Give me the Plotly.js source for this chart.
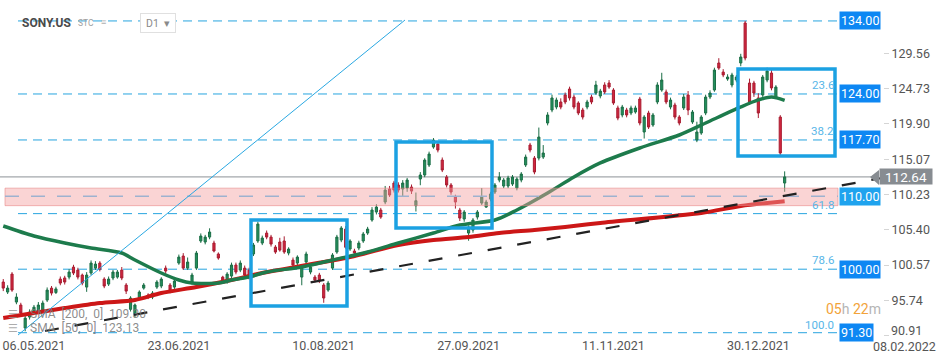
<!DOCTYPE html>
<html><head><meta charset="utf-8">
<script src="https://cdn.plot.ly/plotly-3.0.1.min.js"></script>
<style>html,body{margin:0;padding:0;background:#fff;}#chart{width:950px;height:361px;}</style>
</head><body><div id="chart"></div>
<script>
// ---- data (bar index 0 = 06.05.2021, one bar per trading day) ----
const firstBar = -7;
const open  = [98.24,96.87,99.33,95.5,95.09,91.94,93.44,94.1,94.27,94.4,95.77,97.41,96.8,98.65,98.8,98.92,100.29,99.88,99.2,97.55,99.47,100.15,100.84,98.65,97.96,98.79,98.92,99.88,97.83,94.5,93.9,96.05,97.41,96.46,96.18,97.55,97.69,100.15,97.83,97.55,100.84,101.8,100.15,98.24,100.15,103.86,103.72,104.4,103.58,102.08,98.92,98.51,99.06,100.57,99.88,100.15,99.88,102.08,103.86,103.58,104.95,104.4,103.03,103.72,103.86,102.21,101.25,100.84,98.92,100.98,99.61,98.92,99.2,97.83,97.14,100.15,102.35,103.99,105.5,102.76,102.49,102.9,103.86,104.95,106.73,107.83,108.1,109.2,110.98,111.8,111.53,110.98,111.12,111.25,108.69,112.35,112.9,114.27,116.73,117.14,114.95,112.62,111.53,109.88,108.1,106.87,104.95,105.36,107.14,109.06,108.51,109.6,110.57,112.21,111.39,111.39,111.66,111.12,112.21,114.27,117.01,115.22,115.22,115.36,120.02,121.8,122.21,122.9,123.86,124.68,123.58,122.76,121.8,122.21,123.58,124.13,123.72,125.23,125.5,124.54,122.08,121.12,121.8,121.39,121.53,123.31,118.79,121.39,119.75,122.9,124.54,124.27,122.21,122.49,120.84,122.08,123.86,120.16,117.69,118.65,121.39,123.58,124.54,128.24,127.0,126.05,125.23,125.91,128.24,133.72,125.5,125.5,123.45,123.86,125.91,126.87,123.58,120.84,111.8];
const high  = [98.65,97.8,99.6,96.7,95.4,93.7,94.5,95.1,95.5,95.7,97.5,97.7,97.6,99.0,99.1,100.0,100.6,100.2,99.4,99.6,101.2,101.1,101.1,98.9,99.0,99.9,99.9,100.3,98.1,96.3,95.3,97.1,98.1,96.7,97.0,98.5,98.9,100.5,98.1,98.7,102.0,102.2,101.6,99.5,102.5,104.9,104.7,105.6,103.9,102.3,99.1,99.6,100.9,100.9,101.2,100.5,100.2,103.6,106.5,104.6,105.3,104.7,103.3,104.3,104.5,103.0,101.6,101.9,100.6,102.4,100.6,99.2,99.5,98.1,98.4,102.2,104.7,105.9,105.9,104.1,102.8,103.9,105.1,105.8,108.5,108.9,108.4,111.4,111.4,112.1,111.9,112.2,112.5,111.6,110.5,113.3,115.2,116.1,117.96,117.5,115.3,112.9,111.8,110.2,108.4,108.1,106.0,107.0,108.1,111.1,109.5,110.6,111.8,113.3,112.5,112.8,112.9,112.6,113.3,115.7,117.3,115.5,119.4,117.0,121.5,123.9,123.5,123.4,124.2,125.0,123.9,123.0,122.1,123.2,123.9,125.8,124.7,125.6,125.9,124.8,122.4,122.5,122.1,122.4,122.4,123.6,121.1,121.7,121.4,125.6,126.9,124.6,123.5,122.8,121.1,124.0,124.4,121.8,120.2,121.1,123.9,124.5,127.6,128.9,127.4,126.7,126.9,126.6,129.5,134.0,126.1,125.8,124.1,126.6,127.6,127.3,125.2,121.1,113.4];
const low   = [97.0,96.6,96.9,95.2,93.5,91.5,93.1,93.8,94.0,94.2,95.5,96.4,96.6,97.8,97.9,98.6,99.2,98.6,97.8,96.9,99.2,99.9,99.7,97.4,97.7,98.5,98.7,98.5,96.6,94.2,93.4,95.8,97.2,95.9,95.9,97.3,97.4,99.4,96.7,97.3,100.6,99.9,99.9,97.9,99.9,103.6,103.4,104.1,102.3,101.3,98.2,98.0,98.8,99.3,99.6,98.9,98.6,101.8,103.6,103.3,104.1,103.1,102.1,102.4,102.1,101.9,100.3,100.5,97.8,100.7,99.3,98.2,98.1,95.4,96.9,99.9,102.1,103.7,102.8,102.5,101.9,102.6,103.6,104.7,106.5,107.5,106.9,108.9,109.9,110.5,110.5,110.0,110.6,110.3,107.9,111.5,112.6,114.0,116.5,116.0,113.3,111.2,110.2,108.3,106.6,106.5,103.9,105.0,106.8,108.8,108.4,109.3,110.3,111.9,111.1,111.1,111.4,110.8,111.9,114.0,116.0,113.0,114.9,115.1,119.7,121.5,121.9,121.9,122.6,123.1,121.9,121.1,120.5,121.9,122.6,123.9,123.4,124.0,124.7,122.5,120.4,120.8,120.8,121.1,121.3,119.7,117.9,119.2,119.5,122.6,124.3,122.6,121.9,120.5,119.7,121.8,121.1,119.9,117.4,118.4,121.1,123.3,124.3,127.3,126.3,125.8,124.9,125.6,127.8,128.6,122.5,123.6,120.7,123.6,125.6,124.5,123.3,115.5,110.6];
const close = [97.41,97.41,97.14,96.18,93.99,93.3,94.13,94.8,95.09,95.36,97.14,96.73,97.3,98.1,98.24,99.61,99.47,98.92,98.1,99.2,100.84,100.7,100.0,97.69,98.65,99.61,99.61,98.79,97.0,96.05,95.1,96.87,97.83,96.18,96.73,98.24,98.65,99.75,97.14,98.38,101.66,100.15,100.98,99.2,102.21,104.54,104.4,105.09,102.49,101.53,98.51,99.33,100.57,99.61,100.84,99.2,98.92,103.31,106.18,104.27,104.4,103.44,102.35,102.62,102.35,102.76,100.57,101.66,100.29,102.08,100.29,98.51,98.38,96.05,98.1,101.94,104.4,105.64,103.0,103.86,102.21,103.58,104.82,105.5,108.1,108.51,107.14,110.84,110.16,110.84,110.84,111.8,112.21,110.7,109.38,112.9,114.95,115.77,117.69,116.32,113.58,111.53,110.57,109.2,107.0,107.83,105.78,106.73,107.83,109.88,109.2,110.3,111.53,112.62,112.21,112.49,112.62,112.35,113.03,115.36,116.32,113.31,118.1,115.91,121.12,123.45,123.17,122.21,122.9,123.45,122.21,121.39,120.84,122.9,122.9,125.23,124.4,124.27,124.95,122.76,120.7,122.21,121.12,122.08,122.08,120.02,120.84,119.47,121.12,125.23,125.91,122.9,123.17,120.84,120.02,123.58,121.8,121.53,118.79,120.84,123.58,124.13,127.28,127.55,126.6,126.32,126.6,126.32,129.06,128.92,122.9,124.13,121.39,126.32,127.14,124.82,124.95,115.91,112.64];

const sma50Bar = [-7,0,7,13,20,23,29,33,36,42,45,49,53,61,68,76,83,91,97,105,110,117,123,129,138,147,153,161,165,168,171];
const sma50Val = [105.92,104.55,103.59,102.90,102.22,101.26,99.48,98.52,98.11,98.11,98.52,98.93,99.61,100.30,101.26,102.35,103.59,104.96,106.05,106.74,108.11,110.44,112.63,114.55,116.60,118.38,120.02,122.22,123.18,123.59,123.13];
const sma200Bar = [-7,0,7,15,23,29,37,45,52,72,83,91,99,106,114,121,129,152,161,171];
const sma200Val = [93.31,94.00,94.68,95.37,95.78,96.74,97.56,98.52,99.48,101.67,103.31,104.00,104.41,104.96,105.37,105.78,106.33,107.70,108.65,109.30];

const dateTickBars = [0,33,66,99,132,165];
const dateTickText = ['06.05.2021','23.06.2021','10.08.2021','27.09.2021','11.11.2021','30.12.2021'];
const nextDateLabel = '08.02.2022';
const priceTicks = [90.91,95.74,100.57,105.40,110.23,115.07,119.90,124.73,129.56];

const fibLevels = [134.00,124.00,117.70,107.61,100.00,91.30];
const fibNames  = ['0.0','23.6','38.2','61.8','78.6','100.0'];
const markedPrices = [134.00,124.00,117.70,110.00,100.00,91.30];
const lastPrice = 112.64;
const bandLow = 108.7, bandHigh = 111.1;
const sma200Last = 109.30, sma50Last = 123.13;

// ---- geometry helpers ----
const X0 = -7.74, X1 = 193.4, Y0 = 90.85, Y1 = 136.87;
const plotW = 883, plotH = 336;
const px2x = p => X0 + p/plotW*(X1-X0);
const py2y = p => Y1 - p/plotH*(Y1-Y0);

const bars = open.map((_,k)=>firstBar+k);

const traces = [
 {type:'candlestick', x:bars, open:open, high:high, low:low, close:close,
  increasing:{line:{color:'#1b6e46',width:1}, fillcolor:'#23905d'},
  decreasing:{line:{color:'#a81d31',width:1}, fillcolor:'#d2263f'},
  whiskerwidth:0, hoverinfo:'skip', showlegend:false},
 {type:'scatter', mode:'lines', x:sma200Bar, y:sma200Val, line:{color:'#cc1717',width:4,shape:'spline',smoothing:0.8}, hoverinfo:'skip', showlegend:false},
 {type:'scatter', mode:'lines', x:sma50Bar, y:sma50Val, line:{color:'#1d7b4c',width:3.5,shape:'spline',smoothing:0.8}, hoverinfo:'skip', showlegend:false}
];

const blue = '#27a4df';
const shapes = [];
const fxL = px2x(18), fxR = px2x(838);
fibLevels.forEach(v=>{
  shapes.push({type:'line', layer:'below', x0:fxL, x1:fxR, y0:v, y1:v, xref:'x', yref:'y', line:{color:blue,width:1,dash:'9px,6px'}});
});
// current price line
shapes.push({type:'line', layer:'below', x0:X0, x1:px2x(871), y0:lastPrice, y1:lastPrice, line:{color:'#8d9297',width:1}});
// pink zone
shapes.push({type:'rect', layer:'above', x0:px2x(5), x1:fxR, y0:bandLow, y1:bandHigh, fillcolor:'rgba(243,160,160,0.45)', line:{color:'rgba(232,130,130,0.55)',width:1}});
shapes.push({type:'line', layer:'above', x0:px2x(5), x1:fxR, y0:110, y1:110, line:{color:'#9db2cf',width:1.5,dash:'14px,12px'}});
// trend lines
shapes.push({type:'line', layer:'above', x0:px2x(18), y0:py2y(335), x1:px2x(405), y1:py2y(20), line:{color:'#2aa8e2',width:1}});
shapes.push({type:'line', layer:'above', x0:px2x(45), y0:py2y(331), x1:px2x(882), y1:py2y(178), line:{color:'#222',width:2.2,dash:'14px,16px'}});
// blue boxes
[[251,347,220,306],[396,492,142,228],[738,835,69,156]].forEach(b=>{
  shapes.push({type:'rect', layer:'above', x0:px2x(b[0]), x1:px2x(b[1]), y0:py2y(b[3]), y1:py2y(b[2]), line:{color:'#1ba1e2',width:3.5}, fillcolor:'rgba(0,0,0,0)'});
});
// arrow of last-price tag
shapes.push({type:'path', layer:'above', path:`M ${px2x(870)},${lastPrice} L ${px2x(879)},${py2y(170)} L ${px2x(879)},${py2y(185)} Z`, fillcolor:'#878c91', line:{width:0}});

const F = 'Roboto, Arial, sans-serif';
const ann = [];
fibLevels.forEach((v,k)=>{
  if(k===0) return;
  ann.push({x:px2x(836), y:v, xref:'x', yref:'y', xanchor:'right', yanchor:'bottom', yshift:k===5?-1:0, text:fibNames[k], showarrow:false, font:{family:F,size:11.5,color:'#58b6e8'}});
});
markedPrices.forEach(v=>{
  ann.push({x:px2x(839), y:v, xref:'x', yref:'y', xanchor:'left', yanchor:'middle', text:v.toFixed(2), showarrow:false,
    bgcolor: v===110 ? '#1fa3ee' : '#0d87f3', borderpad:1, font:{family:F,size:12.5,color:'#fff'}});
});
ann.push({x:879/plotW, xref:'paper', y:lastPrice, yref:'y', xanchor:'left', yanchor:'middle', text:lastPrice.toFixed(2), showarrow:false,
  bgcolor:'#878c91', width:52, height:15, borderpad:0, font:{family:F,size:13.5,color:'#fff'}});
// lowest price tick label sits slightly raised, as in the reference
ann.push({x:889/plotW, xref:'paper', y:py2y(330), yref:'y', xanchor:'left', yanchor:'middle', text:priceTicks[0].toFixed(2), showarrow:false, font:{family:F,size:12.5,color:'#555'}});
ann.push({x:904/plotW, xref:'paper', y:0, yref:'paper', xanchor:'center', yanchor:'top', yshift:-1, text:nextDateLabel, showarrow:false, font:{family:F,size:12.5,color:'#555'}});
// legend texts
ann.push({x:28/plotW, xref:'paper', y:py2y(314), yref:'y', xanchor:'left', yanchor:'middle', text:'SMA  [200,  0]  '+sma200Last.toFixed(2), showarrow:false, font:{family:F,size:12,color:'rgba(120,120,120,0.85)'}});
ann.push({x:28/plotW, xref:'paper', y:py2y(328), yref:'y', xanchor:'left', yanchor:'middle', text:'SMA  [50,  0]  '+sma50Last.toFixed(2), showarrow:false, font:{family:F,size:12,color:'rgba(120,120,120,0.85)'}});
ann.push({x:6/plotW, xref:'paper', y:py2y(314), yref:'y', xanchor:'left', yanchor:'middle', text:'☰', showarrow:false, font:{family:'DejaVu Sans',size:11,color:'rgba(150,150,150,0.8)'}});
ann.push({x:6/plotW, xref:'paper', y:py2y(328), yref:'y', xanchor:'left', yanchor:'middle', text:'☰', showarrow:false, font:{family:'DejaVu Sans',size:11,color:'rgba(150,150,150,0.8)'}});
// countdown
ann.push({x:824/plotW, xref:'paper', y:py2y(309), yref:'y', xanchor:'left', yanchor:'middle', showarrow:false,
  text:'<span style="color:#f2a33a">05</span><span style="color:#b5b5b5">h</span> <span style="color:#f2a33a">22</span><span style="color:#b5b5b5">m</span>', font:{family:F,size:14}});
// header
ann.push({x:20/plotW, xref:'paper', y:1-23/plotH, yref:'paper', xanchor:'left', yanchor:'middle', text:'<b>SONY.US</b>', showarrow:false, font:{family:F,size:12,color:'#4a4a4a'}});
ann.push({x:76/plotW, xref:'paper', y:1-23/plotH, yref:'paper', xanchor:'left', yanchor:'middle', text:'STC', showarrow:false, font:{family:F,size:8.5,color:'#a0a0a0'}});
ann.push({x:99/plotW, xref:'paper', y:1-22/plotH, yref:'paper', xanchor:'left', yanchor:'middle', text:'≡', showarrow:false, font:{family:F,size:9,color:'#b0b0b0'}});
ann.push({x:140/plotW, xref:'paper', y:1-23/plotH, yref:'paper', xanchor:'left', yanchor:'middle', text:'D1  ▾', showarrow:false, bgcolor:'#fff', bordercolor:'#e0e0e0', borderwidth:1, borderpad:3, width:28, height:12, font:{family:F,size:10.5,color:'#8a8a8a'}});

const layout = {
  width:950, height:361, margin:{l:0,r:67,t:0,b:25},
  paper_bgcolor:'#fff', plot_bgcolor:'#fff', showlegend:false,
  xaxis:{range:[X0,X1], tickmode:'array', tickvals:dateTickBars, ticktext:dateTickText, showgrid:false, zeroline:false, showline:false, ticks:'',
         tickfont:{family:F,size:12.5,color:'#555'}, rangeslider:{visible:false}, fixedrange:true},
  yaxis:{range:[Y0,Y1], side:'right', tickmode:'array', tickvals:priceTicks, ticktext:priceTicks.map((v,k)=>k===0?'':v.toFixed(2)), showgrid:false, zeroline:false, showline:false,
         ticks:'outside', ticklen:5, tickcolor:'#d5d5d5', tickfont:{family:F,size:12.5,color:'#555'}, fixedrange:true},
  shapes:shapes, annotations:ann
};
Plotly.newPlot('chart', traces, layout, {staticPlot:true, displayModeBar:false});
</script></body></html>
